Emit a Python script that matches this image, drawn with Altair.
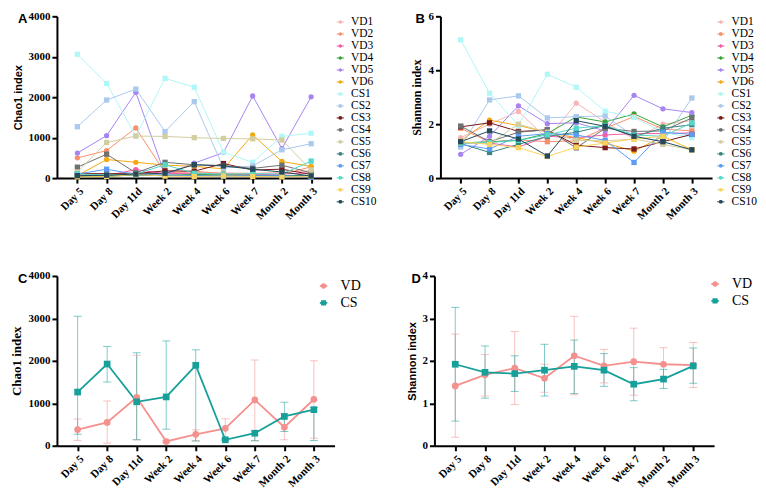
import altair as alt
import pandas as pd
import numpy as np

categories = ["Day 5", "Day 8", "Day 11d", "Week 2", "Week 4", "Week 6", "Week 7", "Month 2", "Month 3"]

series_names = ["VD1", "VD2", "VD3", "VD4", "VD5", "VD6",
                "CS1", "CS2", "CS3", "CS4", "CS5", "CS6", "CS7", "CS8", "CS9", "CS10"]
series_colors = ["#F7B5B5", "#F7916D", "#F45BA8", "#36A336", "#A884F2", "#F5A90F",
                 "#B0F7F7", "#A9C9EE", "#7A1718", "#707070", "#D2CEA0", "#3A8580",
                 "#5A9CF6", "#52D9C9", "#FAD35C", "#24495A"]

# Panel A: Chao1 index per subject
chao1_vd1 = [130, 70, 150, 120, 140, 130, 120, 140, 180]
chao1_vd2 = [500, 680, 1240, 130, 170, 110, 100, 90, 280]
chao1_vd3 = [80, 60, 210, 110, 120, 90, 80, 100, 130]
chao1_vd4 = [40, 40, 80, 70, 90, 80, 70, 60, 60]
chao1_vd5 = [620, 1050, 2120, 80, 370, 630, 2030, 730, 2010]
chao1_vd6 = [60, 460, 390, 320, 290, 230, 1070, 410, 290]
chao1_cs1 = [3062, 2341, 1040, 2465, 2248, 640, 390, 1030, 1110]
chao1_cs2 = [1270, 1930, 2200, 1150, 1890, 250, 300, 700, 850]
chao1_cs3 = [110, 110, 110, 180, 170, 360, 200, 220, 90]
chao1_cs4 = [270, 590, 130, 390, 330, 310, 240, 320, 130]
chao1_cs5 = [150, 880, 1040, 1030, 1000, 980, 970, 940, 200]
chao1_cs6 = [40, 60, 80, 60, 70, 60, 50, 50, 60]
chao1_cs7 = [100, 220, 90, 80, 60, 50, 60, 60, 20]
chao1_cs8 = [100, 80, 100, 330, 120, 100, 110, 100, 420]
chao1_cs9 = [30, 40, 90, 50, 40, 50, 40, 30, 40]
chao1_cs10 = [60, 70, 100, 120, 330, 300, 220, 150, 50]

# Panel B: Shannon index per subject
shannon_vd1 = [1.50, 2.00, 2.47, 1.45, 2.78, 2.08, 1.45, 2.00, 2.13]
shannon_vd2 = [1.85, 1.33, 1.42, 1.35, 1.38, 1.85, 2.28, 1.82, 1.75]
shannon_vd3 = [1.30, 1.30, 1.15, 1.55, 1.50, 1.60, 1.65, 1.65, 1.68]
shannon_vd4 = [1.30, 1.35, 1.40, 1.65, 2.27, 2.08, 2.38, 1.90, 2.33]
shannon_vd5 = [0.88, 1.55, 2.68, 2.02, 2.05, 1.75, 3.07, 2.57, 2.43]
shannon_vd6 = [1.38, 2.15, 1.95, 1.70, 1.50, 1.30, 1.00, 1.55, 1.05]
shannon_cs1 = [5.13, 3.15, 1.95, 3.85, 3.37, 2.48, 2.25, 1.70, 1.50]
shannon_cs2 = [1.15, 2.90, 3.05, 2.23, 2.28, 2.30, 1.55, 1.35, 2.97]
shannon_cs3 = [1.90, 2.05, 1.73, 1.78, 1.22, 1.13, 1.08, 1.35, 1.62]
shannon_cs4 = [1.93, 1.35, 1.70, 1.80, 1.12, 1.85, 1.73, 1.75, 2.23]
shannon_cs5 = [1.30, 1.28, 2.00, 1.70, 1.40, 1.38, 1.45, 1.25, 1.05]
shannon_cs6 = [1.28, 0.95, 1.25, 1.55, 1.70, 1.95, 1.55, 1.85, 1.98]
shannon_cs7 = [1.25, 1.08, 1.55, 1.65, 1.60, 1.40, 0.58, 1.70, 1.62]
shannon_cs8 = [1.30, 1.32, 1.40, 1.60, 1.85, 1.95, 1.60, 1.55, 2.05]
shannon_cs9 = [1.35, 1.25, 1.13, 0.80, 1.15, 1.30, 1.45, 1.55, 1.05]
shannon_cs10 = [1.35, 1.75, 1.45, 0.82, 2.13, 1.92, 1.55, 1.35, 1.05]

# Panel C: Chao1 group summary
group_names = ["VD", "CS"]
group_colors = ["#F4908E", "#17A09A"]
vd_chao1_mean = [380, 550, 1140, 100, 270, 410, 1080, 435, 1095]
vd_chao1_low = [125, 60, 140, 80, 120, 150, 115, 140, 175]
vd_chao1_high = [630, 1055, 2130, 120, 375, 635, 2020, 760, 2005]
cs_chao1_mean = [1265, 1925, 1035, 1150, 1895, 140, 295, 690, 850]
cs_chao1_low = [270, 1500, 140, 390, 110, 120, 120, 335, 125]
cs_chao1_high = [3050, 2340, 2190, 2470, 2260, 160, 350, 1025, 900]

# Panel D: Shannon group summary
vd_shannon_mean = [1.41, 1.67, 1.83, 1.59, 2.12, 1.88, 1.98, 1.92, 1.90]
vd_shannon_low = [0.20, 1.17, 0.97, 1.26, 1.20, 1.48, 1.19, 1.55, 1.37]
vd_shannon_high = [2.63, 2.15, 2.69, 1.92, 3.05, 2.27, 2.77, 2.31, 2.43]
cs_shannon_mean = [1.92, 1.73, 1.70, 1.78, 1.87, 1.78, 1.45, 1.57, 1.88]
cs_shannon_low = [0.58, 1.12, 1.28, 1.17, 1.23, 1.40, 1.06, 1.35, 1.47]
cs_shannon_high = [3.26, 2.35, 2.12, 2.39, 2.49, 2.17, 1.84, 1.80, 2.30]

chao1_values = [chao1_vd1, chao1_vd2, chao1_vd3, chao1_vd4, chao1_vd5, chao1_vd6,
                chao1_cs1, chao1_cs2, chao1_cs3, chao1_cs4, chao1_cs5, chao1_cs6,
                chao1_cs7, chao1_cs8, chao1_cs9, chao1_cs10]
shannon_values = [shannon_vd1, shannon_vd2, shannon_vd3, shannon_vd4, shannon_vd5, shannon_vd6,
                  shannon_cs1, shannon_cs2, shannon_cs3, shannon_cs4, shannon_cs5, shannon_cs6,
                  shannon_cs7, shannon_cs8, shannon_cs9, shannon_cs10]

SERIF = "Liberation Serif"
SANS = "Liberation Sans"

# legend symbols: a short line through the marker
CIRC_S = "M-0.9,0H0.9M0.33,0A0.33,0.33,0,1,1,-0.33,0A0.33,0.33,0,1,1,0.33,0Z"
SQ_S = "M-0.9,0H0.9M-0.3,-0.3H0.3V0.3H-0.3Z"
CIRC_L = "M-0.75,0H0.75M0.38,0A0.38,0.38,0,1,1,-0.38,0A0.38,0.38,0,1,1,0.38,0Z"
SQ_L = "M-0.75,0H0.75M-0.34,-0.34H0.34V0.34H-0.34Z"


def long_df(names, values):
    rows = []
    for n, vals in zip(names, values):
        for c, v in zip(categories, vals):
            rows.append({"time": c, "series": n, "value": v})
    return pd.DataFrame(rows)


def xenc():
    return alt.X("time:N", sort=categories, title=None,
                 scale=alt.Scale(type="point", padding=0.7),
                 axis=alt.Axis(labelAngle=-45, labelFont=SERIF, labelFontWeight="bold",
                               labelFontSize=11, labelPadding=2))


def yenc(field, ymax, yticks, ytitle, tfont, tsize):
    return alt.Y(field + ":Q", title=ytitle,
                 scale=alt.Scale(domain=[0, ymax], nice=False),
                 axis=alt.Axis(values=yticks, format="d", titleFont=tfont, titleFontSize=tsize,
                               titleFontWeight="bold", titlePadding=4))


def letter(ch, dx):
    return alt.Chart(pd.DataFrame({"t": [ch]})).mark_text(
        font=SANS, fontWeight="bold", fontSize=13, align="left", baseline="middle", color="black"
    ).encode(text="t:N", x=alt.value(dx), y=alt.value(3))


def legend_layer(names, colors, paths, field, y, yfield, legend_kwargs, sw, ssize):
    # carries the legend only; its values are empty so no mark is drawn
    df = pd.DataFrame({field: names, "time": categories[:1] * len(names),
                       yfield: [np.nan] * len(names)})
    leg = alt.Legend(title=None, labelFont=SERIF, labelColor="black", symbolSize=ssize,
                     padding=0, symbolStrokeWidth=sw, symbolFillColor="black",
                     symbolStrokeColor="black", symbolOpacity=1, **legend_kwargs)
    return alt.Chart(df).mark_point(filled=True, opacity=1, size=ssize, strokeWidth=sw).encode(
        x=xenc(), y=y,
        shape=alt.Shape(field + ":N", scale=alt.Scale(domain=names, range=paths),
                        sort=names, legend=leg),
        fill=alt.Fill(field + ":N", scale=alt.Scale(domain=names, range=colors),
                      sort=names, legend=leg),
        stroke=alt.Stroke(field + ":N", scale=alt.Scale(domain=names, range=colors),
                          sort=names, legend=leg),
    )


def rev_color(field, names, colors):
    # same mapping as the legend scales, listed in reverse so it is not merged with them
    return alt.Color(field + ":N", scale=alt.Scale(domain=names[::-1], range=colors[::-1]),
                     legend=None)


def subject_panel(values, ymax, yticks, ytitle, tfont, tsize, squares, w, h, ch, dx):
    df = long_df(series_names, values)
    y = yenc("value", ymax, yticks, ytitle, tfont, tsize)
    col = rev_color("series", series_names, series_colors)
    circles = [n for n in series_names if n not in squares]
    paths = [SQ_S if n in squares else CIRC_S for n in series_names]
    base = alt.Chart(df)
    leg = legend_layer(series_names, series_colors, paths, "series", y, "value",
                       dict(orient="right", offset=3, labelFontSize=11.5, labelOffset=5,
                            rowPadding=-1), 1, 64)
    lines = base.mark_line(strokeWidth=1).encode(x=xenc(), y=y, color=col, detail="series:N")
    pc = base.transform_filter(alt.FieldOneOfPredicate(field="series", oneOf=circles)).mark_point(
        filled=True, size=28, opacity=1, shape="circle").encode(x=xenc(), y=y, color=col)
    ps = base.transform_filter(alt.FieldOneOfPredicate(field="series", oneOf=squares)).mark_point(
        filled=True, size=28, opacity=1, shape="square").encode(x=xenc(), y=y, color=col)
    return alt.layer(leg, lines, pc, ps, letter(ch, dx)).properties(width=w, height=h)


def group_panel(means, lows, highs, ymax, yticks, ytitle, tfont, tsize, w, h, ch, dx, lx, ly):
    rows = []
    for g, m, lo, hi in zip(group_names, means, lows, highs):
        for c, a, b, d in zip(categories, m, lo, hi):
            rows.append({"time": c, "group": g, "mean": a, "lo": b, "hi": d})
    df = pd.DataFrame(rows)
    y = yenc("mean", ymax, yticks, ytitle, tfont, tsize)
    col = rev_color("group", group_names, group_colors)
    base = alt.Chart(df)
    leg = legend_layer(group_names, group_colors, [CIRC_L, SQ_L], "group", y, "mean",
                       dict(orient="none", legendX=lx, legendY=ly, labelFontSize=14,
                            labelOffset=10, rowPadding=3), 1.8, 100)
    rules = base.mark_rule(strokeWidth=1, opacity=0.55).encode(
        x=xenc(), y=alt.Y("lo:Q"), y2="hi:Q", color=col)
    cap_lo = base.mark_tick(thickness=1, size=8, opacity=0.55).encode(
        x=xenc(), y=alt.Y("lo:Q"), color=col)
    cap_hi = base.mark_tick(thickness=1, size=8, opacity=0.55).encode(
        x=xenc(), y=alt.Y("hi:Q"), color=col)
    lines = base.mark_line(strokeWidth=1.8).encode(x=xenc(), y=y, color=col, detail="group:N")
    pc = base.transform_filter(alt.datum.group == "VD").mark_point(
        filled=True, size=45, opacity=1, shape="circle").encode(x=xenc(), y=y, color=col)
    ps = base.transform_filter(alt.datum.group == "CS").mark_point(
        filled=True, size=45, opacity=1, shape="square").encode(x=xenc(), y=y, color=col)
    return alt.layer(leg, rules, cap_lo, cap_hi, lines, pc, ps, letter(ch, dx)).properties(
        width=w, height=h)


pA = subject_panel(chao1_values, 4000, [0, 1000, 2000, 3000, 4000], "Chao1 index", SANS, 11,
                   [n for n in series_names if n.startswith("CS")], 275, 162, "A", -39)
pB = subject_panel(shannon_values, 6, [0, 2, 4, 6], "Shannon index", SERIF, 12,
                   ["VD2"] + [n for n in series_names if n.startswith("CS")], 272, 162, "B", -25)
pC = group_panel([vd_chao1_mean, cs_chao1_mean], [vd_chao1_low, cs_chao1_low],
                 [vd_chao1_high, cs_chao1_high], 4000, [0, 1000, 2000, 3000, 4000],
                 "Chao1 index", SERIF, 13, 278, 170, "C", -39, 260, 3)
pD = group_panel([vd_shannon_mean, cs_shannon_mean], [vd_shannon_low, cs_shannon_low],
                 [vd_shannon_high, cs_shannon_high], 4, [0, 1, 2, 3, 4],
                 "Shannon index", SANS, 11, 280, 170, "D", -23, 274, 1)

RES = dict(color="independent", shape="independent", fill="independent", stroke="independent")

top = alt.hconcat(pA, pB, spacing=33).resolve_scale(**RES).resolve_legend(**RES)
bottom = alt.hconcat(pC, pD, spacing=45).resolve_scale(**RES).resolve_legend(**RES)

chart = alt.vconcat(top, bottom, spacing=48).resolve_scale(
    x="independent", y="independent", **RES
).resolve_legend(**RES).properties(
    padding={"left": 3, "top": 2, "right": 0, "bottom": 0}
).configure_view(stroke=None).configure_axis(
    grid=False, domainColor="black", domainWidth=2, tickColor="black", tickWidth=2,
    tickSize=5, labelFont=SERIF, labelFontWeight="bold", labelFontSize=11,
    labelColor="black", titleColor="black"
)

chart.save("out.html", embed_options={"renderer": "svg", "actions": False})
